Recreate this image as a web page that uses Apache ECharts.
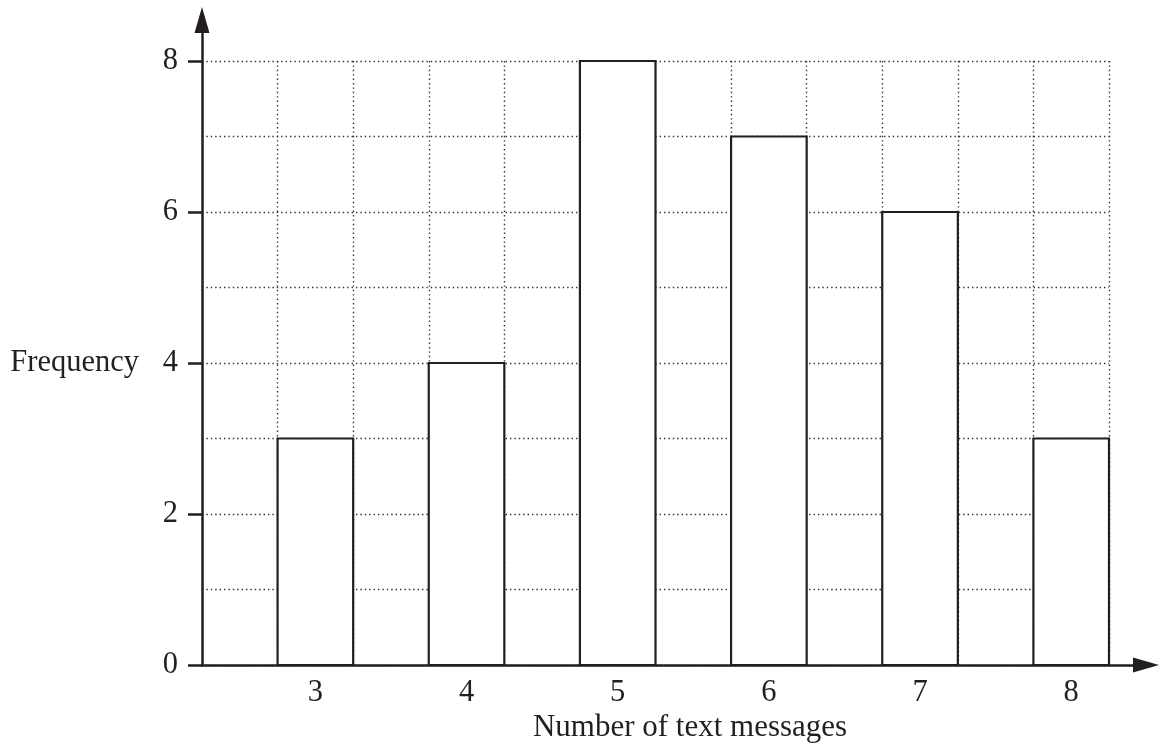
<!DOCTYPE html>
<html>
<head>
<meta charset="utf-8">
<script src="https://cdn.jsdelivr.net/npm/echarts@6/dist/echarts.min.js"></script>
<style>
html,body{margin:0;padding:0;background:#fff;}
#chart{width:1159px;height:753px;}
</style>
</head>
<body>
<div id="chart"></div>
<script>
// Data
var categories = [3, 4, 5, 6, 7, 8];
var frequencies = [3, 4, 8, 7, 6, 3];
var yTickLabels = [0, 2, 4, 6, 8];
var xTickLabels = [3, 4, 5, 6, 7, 8];

var INK = '#231f20';
var FONT = 'Liberation Serif';
var FS = 30.5;
var GRIDLINE = {show: true, lineStyle: {color: '#333', width: 1.4, type: [1.4, 3]}};

var chart = echarts.init(document.getElementById('chart'), null, {renderer: 'canvas'});

var seriesData = categories.map(function (c, i) { return [c, frequencies[i]]; });

var option = {
  backgroundColor: '#fff',
  animation: false,
  grid: [
    {left: 202, right: 50, top: 61, bottom: 88, containLabel: false},
    {left: 202, right: 13, top: 20, bottom: 88, containLabel: false}
  ],
  xAxis: [
    {
      type: 'value', gridIndex: 0, min: 2.25, max: 8.25, interval: 0.5,
      axisLine: {show: false},
      axisTick: {show: false},
      axisLabel: {show: false},
      splitLine: GRIDLINE
    },
    {
      type: 'value', gridIndex: 0, min: 2.25, max: 8.25, position: 'bottom',
      axisLine: {show: false},
      axisTick: {show: false},
      axisLabel: {
        customValues: xTickLabels, margin: 12,
        fontFamily: FONT, fontSize: FS, color: INK
      },
      splitLine: {show: false}
    },
    {
      type: 'value', gridIndex: 1, min: 0, max: 1,
      axisLine: {show: true, symbol: ['none', 'triangle'], symbolSize: [15, 26],
        lineStyle: {color: INK, width: 2.5}},
      axisTick: {show: false},
      axisLabel: {show: false},
      splitLine: {show: false},
      name: 'Number of text messages', nameLocation: 'middle', nameGap: 47,
      nameTextStyle: {fontFamily: FONT, fontSize: 31, color: INK, padding: [0, 0, 0, 32]}
    }
  ],
  yAxis: [
    {
      type: 'value', gridIndex: 0, min: 0, max: 8, interval: 1,
      axisLine: {show: false},
      axisTick: {show: false},
      axisLabel: {show: false},
      splitLine: GRIDLINE
    },
    {
      type: 'value', gridIndex: 0, min: 0, max: 8, position: 'left',
      axisLine: {show: false},
      axisTick: {show: true, customValues: yTickLabels, length: 14, inside: false,
        lineStyle: {color: INK, width: 2.5}},
      axisLabel: {
        customValues: yTickLabels, margin: 24,
        fontFamily: FONT, fontSize: FS, color: INK
      },
      splitLine: {show: false},
      name: 'Frequency', nameLocation: 'middle', nameRotate: 0, nameGap: 63,
      nameTextStyle: {fontFamily: FONT, fontSize: FS, color: INK, align: 'right', verticalAlign: 'middle'}
    },
    {
      type: 'value', gridIndex: 1, min: 0, max: 1,
      axisLine: {show: true, symbol: ['none', 'triangle'], symbolSize: [15, 26],
        lineStyle: {color: INK, width: 2.5}},
      axisTick: {show: false},
      axisLabel: {show: false},
      splitLine: {show: false}
    }
  ],
  series: [
    {
      type: 'custom',
      xAxisIndex: 0, yAxisIndex: 0,
      data: seriesData,
      z: 5,
      renderItem: function (params, api) {
        var x = api.value(0), y = api.value(1);
        var p0 = api.coord([x - 0.25, y]);
        var p1 = api.coord([x + 0.25, 0]);
        return {
          type: 'rect',
          shape: {x: p0[0], y: p0[1], width: p1[0] - p0[0], height: p1[1] - p0[1]},
          style: {fill: '#fff', stroke: INK, lineWidth: 2.2}
        };
      }
    }
  ]
};
chart.setOption(option);
</script>
</body>
</html>
